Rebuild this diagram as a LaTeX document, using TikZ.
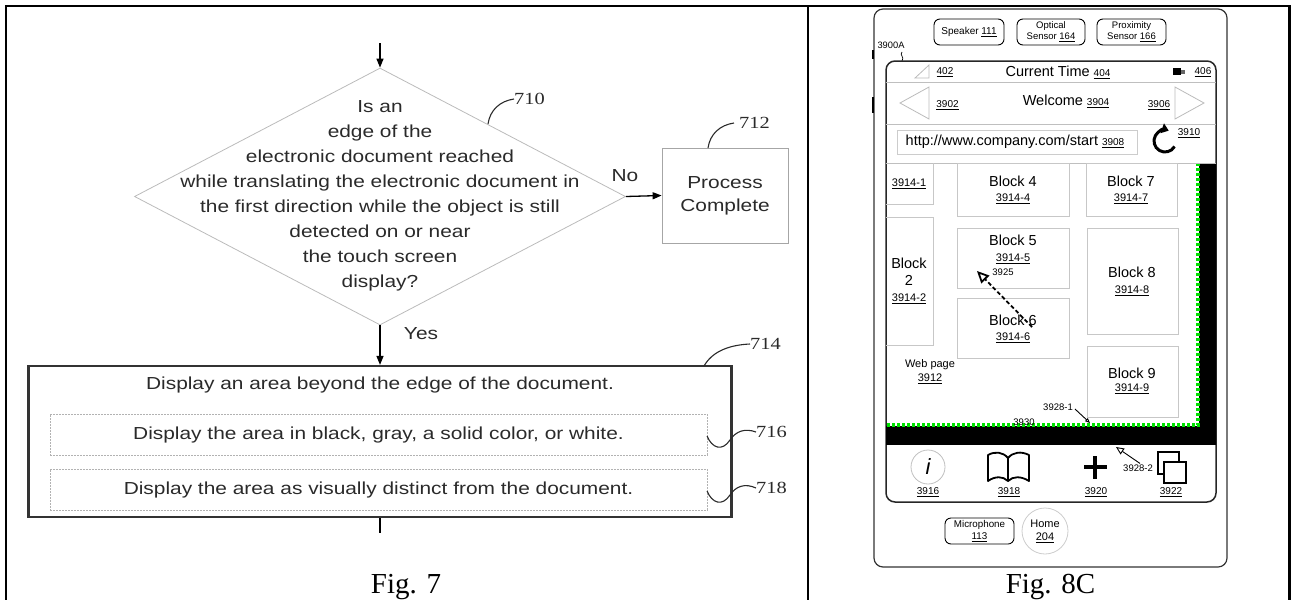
\documentclass[tikz,border=0pt]{standalone}
\usepackage{fontspec}
\setmainfont{Liberation Serif}
\setsansfont{Liberation Sans}
\newfontfamily\lfont[FakeStretch=1.2]{Liberation Sans}
\newfontfamily\lserif[FakeStretch=1.2]{Liberation Serif}
\newfontfamily\rfont{Liberation Sans}
\usetikzlibrary{shapes.geometric,arrows.meta}
\newcommand\myfs[2]{\fontsize{#1}{#2}\selectfont}
\newcommand\myul[1]{\underline{#1}}
\definecolor{lgray}{HTML}{BBBBBB}
\definecolor{bgreen}{RGB}{0,225,0}
\definecolor{txt}{HTML}{2A2A2A}
\begin{document}
\begin{tikzpicture}[x=1pt,y=-1pt,
  flow/.style={font=\lfont\myfs{17.4}{25}, text=txt, align=center, inner sep=0pt},
  ref/.style={font=\lserif\myfs{17}{20}, text=txt, inner sep=0pt, anchor=west},
  arr/.style={line width=1.3pt, black, -{Triangle[length=9pt,width=7pt]}},
  plainline/.style={line width=1.3pt, black},
  lead/.style={line width=1.1pt, txt},
  figcap/.style={font=\rmfamily\myfs{29}{33}, inner sep=0pt, anchor=base},
  border/.style={line width=2.5pt, black},
  dbox/.style={draw=black!30, line width=0.7pt, dash pattern=on 2pt off 1pt},
  rsm/.style={font=\rfont\myfs{10}{12}, inner sep=0pt, align=center},
  rnum/.style={font=\rfont\myfs{11}{13}, inner sep=0pt, align=center},
  rmd/.style={font=\rfont\myfs{14.5}{18}, inner sep=0pt, align=center},
  blk/.style={draw=black!22, line width=0.8pt, inner sep=0pt},
  sens/.style={draw=black, line width=0.9pt, rounded corners=6pt, fill=white, font=\rfont\myfs{9.5}{11}, align=center, inner sep=0pt},
  sep/.style={draw=black!25, line width=0.8pt},
  tri/.style={draw=lgray, line width=0.8pt},
  ldr/.style={line width=0.9pt, black}
]
\useasboundingbox (0,0) rectangle (1295,600);

% ---------------- table borders ----------------
\draw[border] (4.75,6) -- (1290.75,6);
\draw[border] (6,6) -- (6,600);
\draw[border] (808,6) -- (808,600);
\draw[border] (1289.5,6) -- (1289.5,600);

% ---------------- Fig. 7 ----------------
\coordinate (start) at (380,43);
\node[diamond, draw=lgray, line width=0.8pt, minimum width=491pt, minimum height=257pt, inner sep=0pt] (d710) at (380,196.5) {};
\node[flow] (t710) at (380,196) {Is an\\edge of the\\electronic document reached\\while translating the electronic document in\\the first direction while the object is still\\detected on or near\\the touch screen\\display?};
\node[flow, draw=black!35, line width=0.8pt, minimum width=126pt, minimum height=95pt, font=\lfont\myfs{17.4}{23}] (p712) at (725,195.5) {Process\\Complete};
\node[draw=black!80, line width=2.2pt, minimum width=703pt, minimum height=151pt, inner sep=0pt] (b714) at (380,441.5) {};
\node[flow] (t714) at (380,385) {Display an area beyond the edge of the document.};
\node[flow, dbox, minimum width=657pt, minimum height=41pt] (d716) at (378.5,434.5) {Display the area in black, gray, a solid color, or white.};
\node[flow, dbox, minimum width=657pt, minimum height=41pt] (d718) at (378.5,489.5) {Display the area as visually distinct from the document.};
\coordinate (endpt) at (380,533);

\draw[arr] (start) -- (d710.north);
\draw[arr] (d710.east) -- (p712.west);
\draw[arr] (d710.south) -- (b714.north -| d710.south);
\draw[plainline] (b714.south -| endpt) -- (endpt);

\node[flow] (no) at (625,176) {No};
\node[flow] (yes) at (421,334) {Yes};

\node[ref] (r710) at (514,99) {710};
\draw[lead] (488,124) .. controls (490,110) and (500,101) .. (r710.west);
\node[ref] (r712) at (739,123) {712};
\draw[lead] (708,148) .. controls (710,134) and (720,125) .. (734,123);
\node[ref] (r714) at (750,344) {714};
\draw[lead] (704,366) .. controls (712,352) and (728,345) .. (r714.west);
\node[ref] (r716) at (756,432) {716};
\draw[lead] (707,436) .. controls (712,448) and (722,452) .. (730,440) .. controls (736,431) and (745,428) .. (r716.west);
\node[ref] (r718) at (756,488) {718};
\draw[lead] (707,491) .. controls (712,503) and (722,507) .. (730,495) .. controls (736,486) and (745,483) .. (r718.west);

\node[figcap] (fig7) at (406,593) {Fig. 7};

% ---------------- Fig. 8C ----------------
\node[draw=black!80, line width=1.2pt, rounded corners=9pt, minimum width=353pt, minimum height=558pt, inner sep=0pt] (phone) at (1050.5,288) {};
\draw[line width=1.5pt] (873,50) -- (873,59);
\draw[line width=1.5pt] (873,97) -- (873,113);

\node[sens, minimum width=70pt, minimum height=26pt, font=\rfont\myfs{10}{11}] (spk) at (969,32) {Speaker \myul{111}};
\node[sens, minimum width=68pt, minimum height=26pt] (opt) at (1051,32) {Optical\\Sensor \myul{164}};
\node[sens, minimum width=69pt, minimum height=26pt] (prox) at (1131.5,32) {Proximity\\Sensor \myul{166}};

\node[rsm, font=\rfont\myfs{9.3}{11}] (l3900) at (891,45) {3900A};
\draw[line width=0.7pt] (902,52) .. controls (899,55) and (905,57) .. (902,61);

% screen
\node[draw=black!85, line width=1.5pt, rounded corners=9pt, minimum width=330pt, minimum height=441pt, inner sep=0pt] (scr) at (1051,281.5) {};

% black over-scroll area and green edge
\fill[black] (1199,163) rectangle (1216,445);
\fill[black] (886,426) rectangle (1216,445);
\draw[bgreen, line width=3.5pt, dash pattern=on 3pt off 2pt] (1198,163) -- (1198,425) -- (886,425);

\draw[sep] (886,82) -- (1216,82);
\draw[sep] (886,124) -- (1216,124);
\draw[sep] (886,163) -- (1216,163);

% status bar
\draw[tri] (915,78) -- (929,65) -- (929,78) -- cycle;
\node[rsm] (n402) at (945,72) {\myul{402}};
\node[rmd] (ctime) at (1058,72) {Current Time {\myfs{10}{12}\myul{404}}};
\fill[black] (1173,68) rectangle (1181,75);
\fill[black!60] (1181,69.5) rectangle (1185,73.5);
\node[rsm] (n406) at (1203,72) {\myul{406}};

% nav bar
\draw[tri] (900,103) -- (929,87) -- (929,119) -- cycle;
\draw[tri] (1175,87) -- (1204,103) -- (1175,119) -- cycle;
\node[rsm] (n3902) at (947.5,105) {\myul{3902}};
\node[rmd] (welc) at (1066,101) {Welcome {\myfs{10}{12}\myul{3904}}};
\node[rsm] (n3906) at (1159,105) {\myul{3906}};

% url row
\node[draw=black!20, line width=1pt, minimum width=240pt, minimum height=24pt, inner sep=0pt] (url) at (1017,142) {};
\node[rmd] (urlt) at (1015,142) {http://www.company.com/start {\myfs{10}{12}\myul{3908}}};
\draw[line width=3pt, -{Triangle[length=7pt,width=10pt]}] (1165,141) ++(30:11) arc[start angle=30, end angle=290, radius=11];
\node[rsm] (n3910) at (1189,133) {\myul{3910}};

% blocks
\draw[blk] (886,204) -- (933,204) -- (933,163);
\node[rnum] (l1) at (909,184) {\myul{3914-1}};
\draw[blk] (886,217) -- (933,217) -- (933,345) -- (886,345);
\node[rmd] (b2a) at (909,263) {Block};
\node[rmd] (b2b) at (909,280) {2};
\node[rnum] (b2c) at (909,299) {\myul{3914-2}};

\node[blk, minimum width=112pt, minimum height=53pt] (b4) at (1013,189.5) {};
\node[blk, minimum width=91pt, minimum height=53pt] (b7) at (1131.5,189.5) {};
\node[blk, minimum width=112pt, minimum height=60pt] (b5) at (1013,258) {};
\node[blk, minimum width=112pt, minimum height=60pt] (b6) at (1013,328) {};
\node[blk, minimum width=91pt, minimum height=106pt] (b8) at (1132.5,281) {};
\node[blk, minimum width=91pt, minimum height=71pt] (b9) at (1132.5,381.5) {};

\node[rmd] (b4a) at (1013,181) {Block 4};
\node[rnum] (b4b) at (1013,199) {\myul{3914-4}};
\node[rmd] (b7a) at (1131,181) {Block 7};
\node[rnum] (b7b) at (1131,199) {\myul{3914-7}};
\node[rmd] (b5a) at (1013,240) {Block 5};
\node[rnum] (b5b) at (1013,259) {\myul{3914-5}};
\node[rmd] (b6a) at (1013,320) {Block 6};
\node[rnum] (b6b) at (1013,338) {\myul{3914-6}};
\node[rmd] (b8a) at (1132,272) {Block 8};
\node[rnum] (b8b) at (1132,291) {\myul{3914-8}};
\node[rmd] (b9a) at (1132,373) {Block 9};
\node[rnum] (b9b) at (1132,389) {\myul{3914-9}};

\node[rnum] (web) at (930,365) {Web page};
\node[rnum] (web2) at (930,379) {\myul{3912}};

% gesture arrow
\coordinate (g1) at (1032,327);
\coordinate (g2) at (977,271);
\draw[line width=1.8pt, dash pattern=on 4pt off 2.5pt, -{Triangle[open,length=12pt,width=11pt]}] (g1) -- (g2);
\node[rsm, font=\rfont\myfs{9.5}{11}] (n3925) at (1003,272) {3925};

\node[rsm, font=\rfont\myfs{9.5}{11}] (n39281) at (1058,407) {3928-1};
\draw[ldr, -{Triangle[open,length=5pt,width=4pt]}] (n39281.east) ++(2,2) -- (1090,423);
\node[rsm, font=\rfont\myfs{9.5}{11}] (n3930) at (1024,422) {3930};

\node[rsm, font=\rfont\myfs{9.5}{11}] (n39282) at (1138,468) {3928-2};
\draw[ldr, -{Triangle[open,length=8pt,width=7pt]}] (n39282.north) ++(2,-1) -- (1116,447);

% toolbar
\node[circle, draw=black!25, line width=0.8pt, minimum size=34pt, inner sep=0pt] (info) at (928,467) {};
\node[font=\rfont\itshape\myfs{22}{24}, inner sep=0pt] (infoi) at (info) {i};
\node[rsm] (n3916) at (928,492) {\myul{3916}};

\draw[line width=1.8pt, line join=round] (988,481) -- (988,455) .. controls (995,451) and (1003,452) .. (1008,458) .. controls (1013,452) and (1021,451) .. (1029,455) -- (1029,481) .. controls (1021,476) and (1013,476) .. (1008,481) .. controls (1003,476) and (995,476) .. (988,481) -- cycle;
\draw[line width=1.8pt] (1008,458) -- (1008,481);
\node[rsm] (n3918) at (1009,492) {\myul{3918}};

\draw[line width=4pt] (1084,467) -- (1107,467);
\draw[line width=4pt] (1095,456) -- (1095,479);
\node[rsm] (n3920) at (1096,492) {\myul{3920}};

\draw[line width=1.8pt, fill=white] (1158,452) rectangle (1179,474);
\draw[line width=1.8pt, fill=white] (1164,462) rectangle (1186,483);
\node[rsm] (n3922) at (1171,492) {\myul{3922}};

% bottom hardware
\node[sens, minimum width=69pt, minimum height=26pt, font=\rfont\myfs{9.8}{11.5}] (mic) at (979.5,531) {Microphone\\\myul{113}};
\node[circle, draw=black!20, line width=0.8pt, minimum size=46pt, inner sep=0pt, align=center, font=\rfont\myfs{11}{13}] (home) at (1045,531) {Home\\\myul{204}};

\node[figcap] (fig8) at (1050.5,593) {Fig. 8C};
\end{tikzpicture}
\end{document}
